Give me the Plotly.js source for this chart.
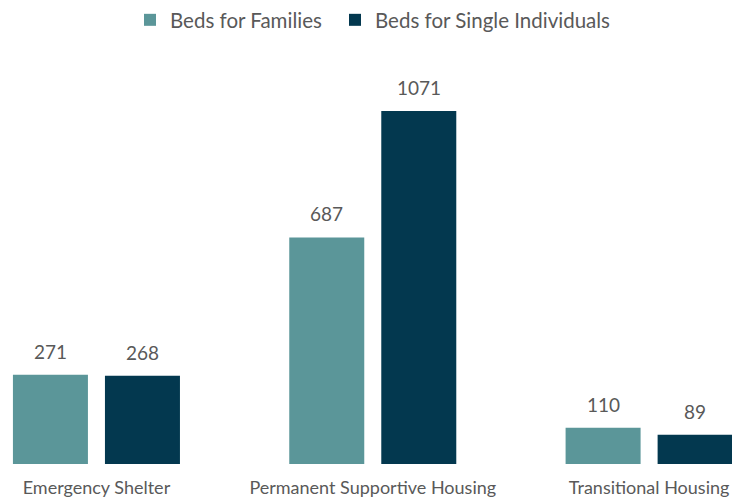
<!DOCTYPE html>
<html>
<head>
<meta charset="utf-8">
<script src="https://cdn.plot.ly/plotly-3.0.1.min.js"></script>
<style>html,body{margin:0;padding:0;background:#fff;}#chart{width:732px;height:499px;}</style>
</head>
<body>
<div id="chart"></div>
<script>
const categories = ["Emergency Shelter", "Permanent Supportive Housing", "Transitional Housing"];
const seriesNames = ["Beds for Families", "Beds for Single Individuals"];
const familiesBeds = [271, 687, 110];
const singleBeds = [268, 1071, 89];
const colors = ["#5B9699", "#03384F"];

const FONT = "Lato, 'Open Sans', sans-serif";
const TXT = "#595959";

const traces = [
  {type: "bar", name: seriesNames[0], x: categories, y: familiesBeds, marker: {color: colors[0]}, hoverinfo: "none", legend: "legend"},
  {type: "bar", name: seriesNames[1], x: categories, y: singleBeds, marker: {color: colors[1]}, hoverinfo: "none", legend: "legend2"}
];

const annotations = [];
[familiesBeds, singleBeds].forEach((vals, s) => {
  vals.forEach((v, i) => {
    annotations.push({
      x: categories[i], y: v, xref: "x", yref: "y",
      text: String(v), showarrow: false,
      yanchor: "bottom", yshift: 10, xshift: s === 0 ? -46 : 46,
      font: {family: FONT, size: 19, color: TXT}
    });
  });
});

const legendBase = {orientation: "h", xanchor: "left", xref: "container", y: 1, yanchor: "top",
                    yref: "container", font: {family: FONT, size: 20.5, color: TXT}, itemwidth: 30};

const layout = {
  width: 732, height: 499,
  margin: {l: 0, r: 0, t: 39, b: 35},
  paper_bgcolor: "#fff", plot_bgcolor: "#fff",
  barmode: "group", bargap: 0.334, bargroupgap: 0.185,
  showlegend: true,
  legend: Object.assign({}, legendBase, {x: 130 / 732}),
  legend2: Object.assign({}, legendBase, {x: 335 / 732}),
  xaxis: {type: "category", range: [-0.349, 2.300], showgrid: false, zeroline: false, showline: false,
          ticks: "", ticklabelstandoff: 11, tickfont: {family: FONT, size: 18, color: TXT}},
  yaxis: {range: [0, 1286], visible: false, showgrid: false, zeroline: false},
  annotations: annotations
};

Plotly.newPlot("chart", traces, layout, {displayModeBar: false, staticPlot: true});
</script>
</body>
</html>
